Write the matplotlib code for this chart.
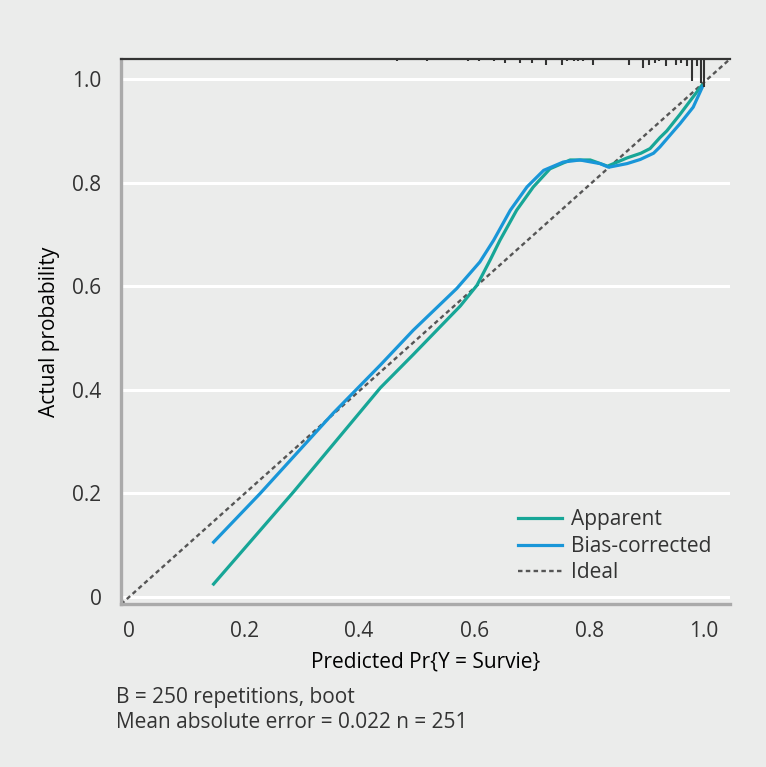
import matplotlib
matplotlib.use("Agg")
import matplotlib.pyplot as plt

# calibration curves
app_x = [0.147, 0.286, 0.437, 0.494, 0.576, 0.605, 0.628, 0.645, 0.674, 0.703, 0.732,
         0.767, 0.802, 0.832, 0.866, 0.890, 0.906, 0.923, 0.935, 0.958, 0.981, 0.996]
app_y = [0.025, 0.203, 0.404, 0.468, 0.562, 0.602, 0.651, 0.689, 0.747, 0.792, 0.827,
         0.844, 0.844, 0.832, 0.848, 0.857, 0.866, 0.887, 0.900, 0.932, 0.966, 0.988]

bc_x = [0.147, 0.228, 0.355, 0.437, 0.494, 0.570, 0.610, 0.634, 0.663, 0.692, 0.721,
        0.755, 0.784, 0.819, 0.834, 0.866, 0.889, 0.912, 0.923, 0.947, 0.958, 0.981, 0.997]
bc_y = [0.106, 0.200, 0.355, 0.448, 0.515, 0.596, 0.647, 0.689, 0.747, 0.792, 0.824,
        0.840, 0.844, 0.837, 0.830, 0.837, 0.845, 0.857, 0.869, 0.900, 0.914, 0.946, 0.985]

# rug of predicted probabilities (position, relative frequency)
rug_x = [0.466, 0.518, 0.590, 0.609, 0.635, 0.654, 0.680, 0.700, 0.725, 0.753, 0.762,
         0.773, 0.781, 0.789, 0.806, 0.870, 0.894, 0.905, 0.914, 0.922, 0.934, 0.951,
         0.960, 0.970, 0.979, 0.987, 0.994, 0.999]
rug_n = [1, 1, 1, 1, 1, 2, 2, 2, 3, 3, 1, 1, 1, 1, 3, 3, 5, 3, 2, 1, 4, 3,
         2, 4, 12, 4, 13, 15]

ticks = [0, 0.2, 0.4, 0.6, 0.8, 1.0]
tick_labels = ["0", "0.2", "0.4", "0.6", "0.8", "1.0"]

plt.rcParams['font.family'] = ['Open Sans', 'DejaVu Sans']
plt.rcParams['font.size'] = 15
plt.rcParams['text.color'] = '#333333'

bg = '#ebeceb'
teal = '#17a697'
blue = '#1996d8'

fig = plt.figure(figsize=(7.66, 7.67), dpi=100, facecolor=bg)
ax = fig.add_axes([121 / 766, 163 / 767, 609 / 766, 545 / 767], facecolor=bg)

lo, hi = -0.014, 1.045
ytop = 1.039
ax.set_xlim(lo, hi)
ax.set_ylim(-0.0135, ytop)

for t in ticks:
    ax.axhline(t, color='white', lw=2.2, zorder=0)

ax.plot([lo, hi], [lo, ytop], color='#555555', lw=1.7, ls=(0, (1.9, 1.4)), label='Ideal', zorder=2)
ax.plot(app_x, app_y, color=teal, lw=2.3, label='Apparent', zorder=3)
ax.plot(bc_x, bc_y, color=blue, lw=2.3, label='Bias-corrected', zorder=3)

# rug at the top
unit = 1.85 / 518
ax.axhline(ytop, color='#333333', lw=1.6, zorder=4, clip_on=False)
ax.vlines(rug_x, [ytop - n * unit for n in rug_n], ytop, color='#333333', lw=1.5, zorder=4)

for s in ['top', 'right']:
    ax.spines[s].set_visible(False)
for s in ['left', 'bottom']:
    ax.spines[s].set_color('#aaaaaa')
    ax.spines[s].set_linewidth(2.4)

ax.set_xticks(ticks)
ax.set_xticklabels(tick_labels)
ax.set_yticks(ticks)
ax.set_yticklabels(tick_labels)
ax.tick_params(length=0, labelsize=15, colors='#333333')
ax.tick_params(axis='x', pad=12)
ax.tick_params(axis='y', pad=14)

ax.set_xlabel('Predicted Pr{Y = Survie}', fontsize=15, labelpad=7)
ax.set_ylabel('Actual probability', fontsize=15, labelpad=9)

h, l = ax.get_legend_handles_labels()
order = [1, 2, 0]
ax.legend([h[i] for i in order], [l[i] for i in order], loc='upper left',
          bbox_to_anchor=(0.652, 0.174), frameon=False, fontsize=15,
          handlelength=2.1, handletextpad=0.45, labelspacing=0.27,
          borderpad=0, borderaxespad=0)

fig.text(116 / 766, 1 - 697 / 767, 'B = 250 repetitions, boot', fontsize=15, va='center')
fig.text(116 / 766, 1 - 723 / 767, 'Mean absolute error = 0.022 n = 251', fontsize=15, va='center')

fig.savefig('out.png', dpi=100, facecolor=bg)
